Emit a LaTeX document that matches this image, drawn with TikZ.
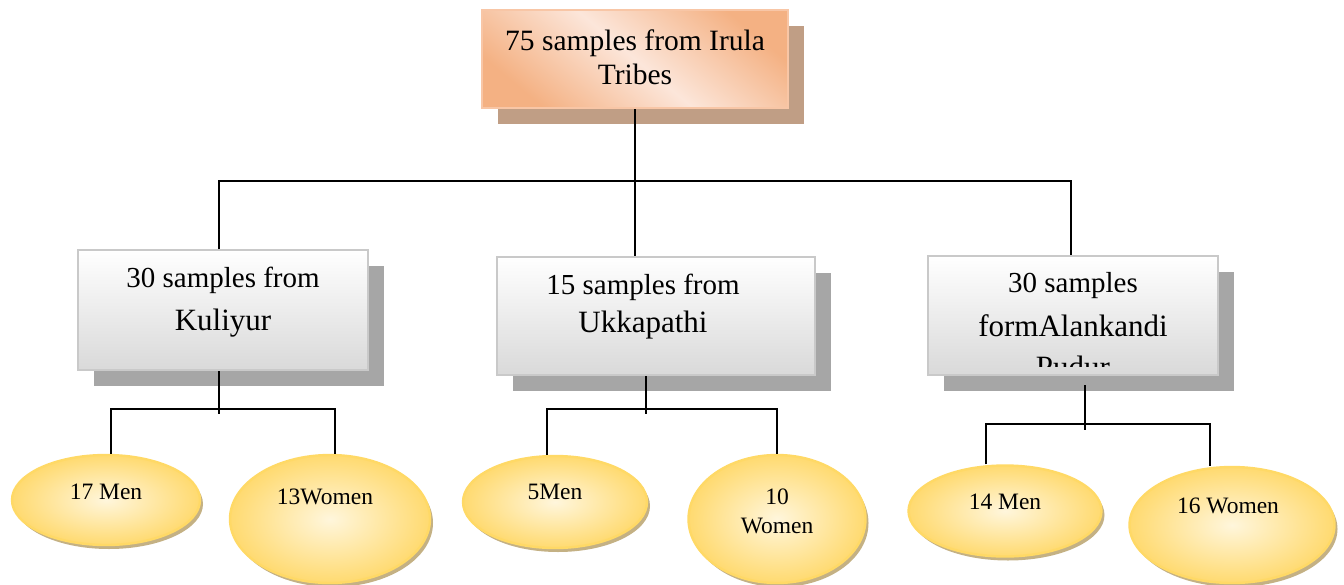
\documentclass[tikz,border=0pt]{standalone}
\usepackage{fontspec}
\setmainfont{Liberation Serif}
\usetikzlibrary{shapes.geometric,shadows}
\definecolor{peachA}{HTML}{F4B183}
\definecolor{peachB}{HTML}{FCE6DA}
\definecolor{peachEdge}{HTML}{F8C6A6}
\definecolor{peachShadow}{HTML}{C09E85}
\definecolor{boxTop}{HTML}{FFFFFF}
\definecolor{boxBot}{HTML}{D9D9D9}
\definecolor{boxEdge}{HTML}{C9C9C9}
\definecolor{boxShadow}{HTML}{A6A6A6}
\definecolor{ellIn}{HTML}{FFF6DC}
\definecolor{ellOut}{HTML}{FFDA70}
\definecolor{ellEdge}{HTML}{FFD966}
\definecolor{ellShadow}{HTML}{C4B184}
\begin{document}
\begin{tikzpicture}[x=0.5pt,y=-0.5pt,
  rootbox/.style={rectangle, draw=peachEdge, line width=1pt,
    top color=peachA, bottom color=peachA, middle color=peachB, shading angle=-40,
    minimum width=153pt, minimum height=49pt, inner sep=0pt,
    drop shadow={shadow xshift=8pt, shadow yshift=-8pt, fill=peachShadow, opacity=1}},
  subbox/.style={rectangle, draw=boxEdge, line width=1pt,
    top color=boxTop, bottom color=boxBot,
    minimum width=145pt, minimum height=60pt, inner sep=0pt,
    drop shadow={shadow xshift=8pt, shadow yshift=-8pt, fill=boxShadow, opacity=1}},
  leaf/.style={ellipse, draw=ellEdge, line width=1.2pt,
    inner color=ellIn, outer color=ellOut, inner sep=0pt,
    drop shadow={shadow xshift=1.5pt, shadow yshift=-2pt, fill=ellShadow, opacity=1}},
  bigtxt/.style={inner sep=0pt, align=center, font=\fontsize{14.75pt}{17pt}\selectfont},
  midtxt/.style={inner sep=0pt, font=\fontsize{14.5pt}{17pt}\selectfont},
  midtxtb/.style={inner sep=0pt, font=\fontsize{15.5pt}{18pt}\selectfont},
  leaftxt/.style={inner sep=0pt, align=center, font=\fontsize{11.75pt}{14.5pt}\selectfont},
  conn/.style={draw=black, line width=1pt}
]
\useasboundingbox (0,0) rectangle (1344,584);

% boxes
\node[rootbox] (root) at (635,59) {};
\node[bigtxt] (roottxt) at (635,57) {75 samples from Irula\\Tribes};

\node[subbox] (kul) at (223,310) {};
\node[midtxt] (kul1) at (223,280) {30 samples from};
\node[midtxtb] (kul2) at (223,323) {Kuliyur};

\node[subbox, minimum width=159pt, minimum height=59pt] (ukk) at (656,316) {};
\node[midtxt] (ukk1) at (643,287) {15 samples from};
\node[midtxtb] (ukk2) at (643,325) {Ukkapathi};

\node[subbox, minimum height=59.5pt] (alk) at (1073,315.5) {};
\node[midtxt] (alk1) at (1073,286) {30 samples};
\node[midtxtb] (alk2) at (1073,326) {formAlankandi};
\coordinate (alkclip) at (1218,366);
\begin{scope}
  \clip (alk.north west) rectangle (alkclip);
  \node[midtxtb, anchor=base] (alk3) at (1073,377) {Pudur};
\end{scope}

% leaves
\node[leaf, minimum width=94pt, minimum height=45pt] (m1) at (106,500) {};
\node[leaftxt] (m1t) at (106,492) {17 Men};
\node[leaf, minimum width=100pt, minimum height=64pt] (w1) at (330,519) {};
\node[leaftxt] (w1t) at (325,497) {13Women};

\node[leaf, minimum width=92pt, minimum height=46pt] (m2) at (555,502) {};
\node[leaftxt] (m2t) at (555,492) {5Men};
\node[leaf, minimum width=88.5pt, minimum height=64pt] (w2) at (777,519) {};
\node[leaftxt] (w2t) at (777,511) {10\\Women};

\node[leaf, minimum width=96.5pt, minimum height=45.5pt] (m3) at (1005,511) {};
\node[leaftxt] (m3t) at (1005,502) {14 Men};
\node[leaf, minimum width=102.5pt, minimum height=58pt] (w3) at (1232,525) {};
\node[leaftxt] (w3t) at (1228,506) {16 Women};

% top connectors
\coordinate (hl) at (219,181);
\coordinate (hr) at (1071,181);
\draw[conn] (root.south) -- (root.south |- ukk.north);
\draw[conn] (hl |- kul.north) -- (hl) -- (hr) -- (hr |- alk.north);

% Kuliyur
\coordinate (kc) at (219,409);
\coordinate (kstub) at (219,414);
\coordinate (kl) at (111,409);
\coordinate (kr) at (335,409);
\draw[conn] (kc |- kul.south) -- (kstub);
\draw[conn] (kl |- m1.north) -- (kl) -- (kr) -- (kr |- w1.north);

% Ukkapathi
\coordinate (uc) at (646,409);
\coordinate (ustub) at (646,414);
\coordinate (ul) at (547,409);
\coordinate (ur) at (777,409);
\draw[conn] (uc |- ukk.south) -- (ustub);
\draw[conn] (ul |- m2.north) -- (ul) -- (ur) -- (ur |- w2.north);

% Alankandi
\coordinate (atop) at (1085,385);
\coordinate (astub) at (1085,430);
\coordinate (al) at (986,424);
\coordinate (ar) at (1210,424);
\draw[conn] (atop) -- (astub);
\draw[conn] (al |- m3.north) -- (al) -- (ar) -- (ar |- w3.north);
\end{tikzpicture}
\end{document}
